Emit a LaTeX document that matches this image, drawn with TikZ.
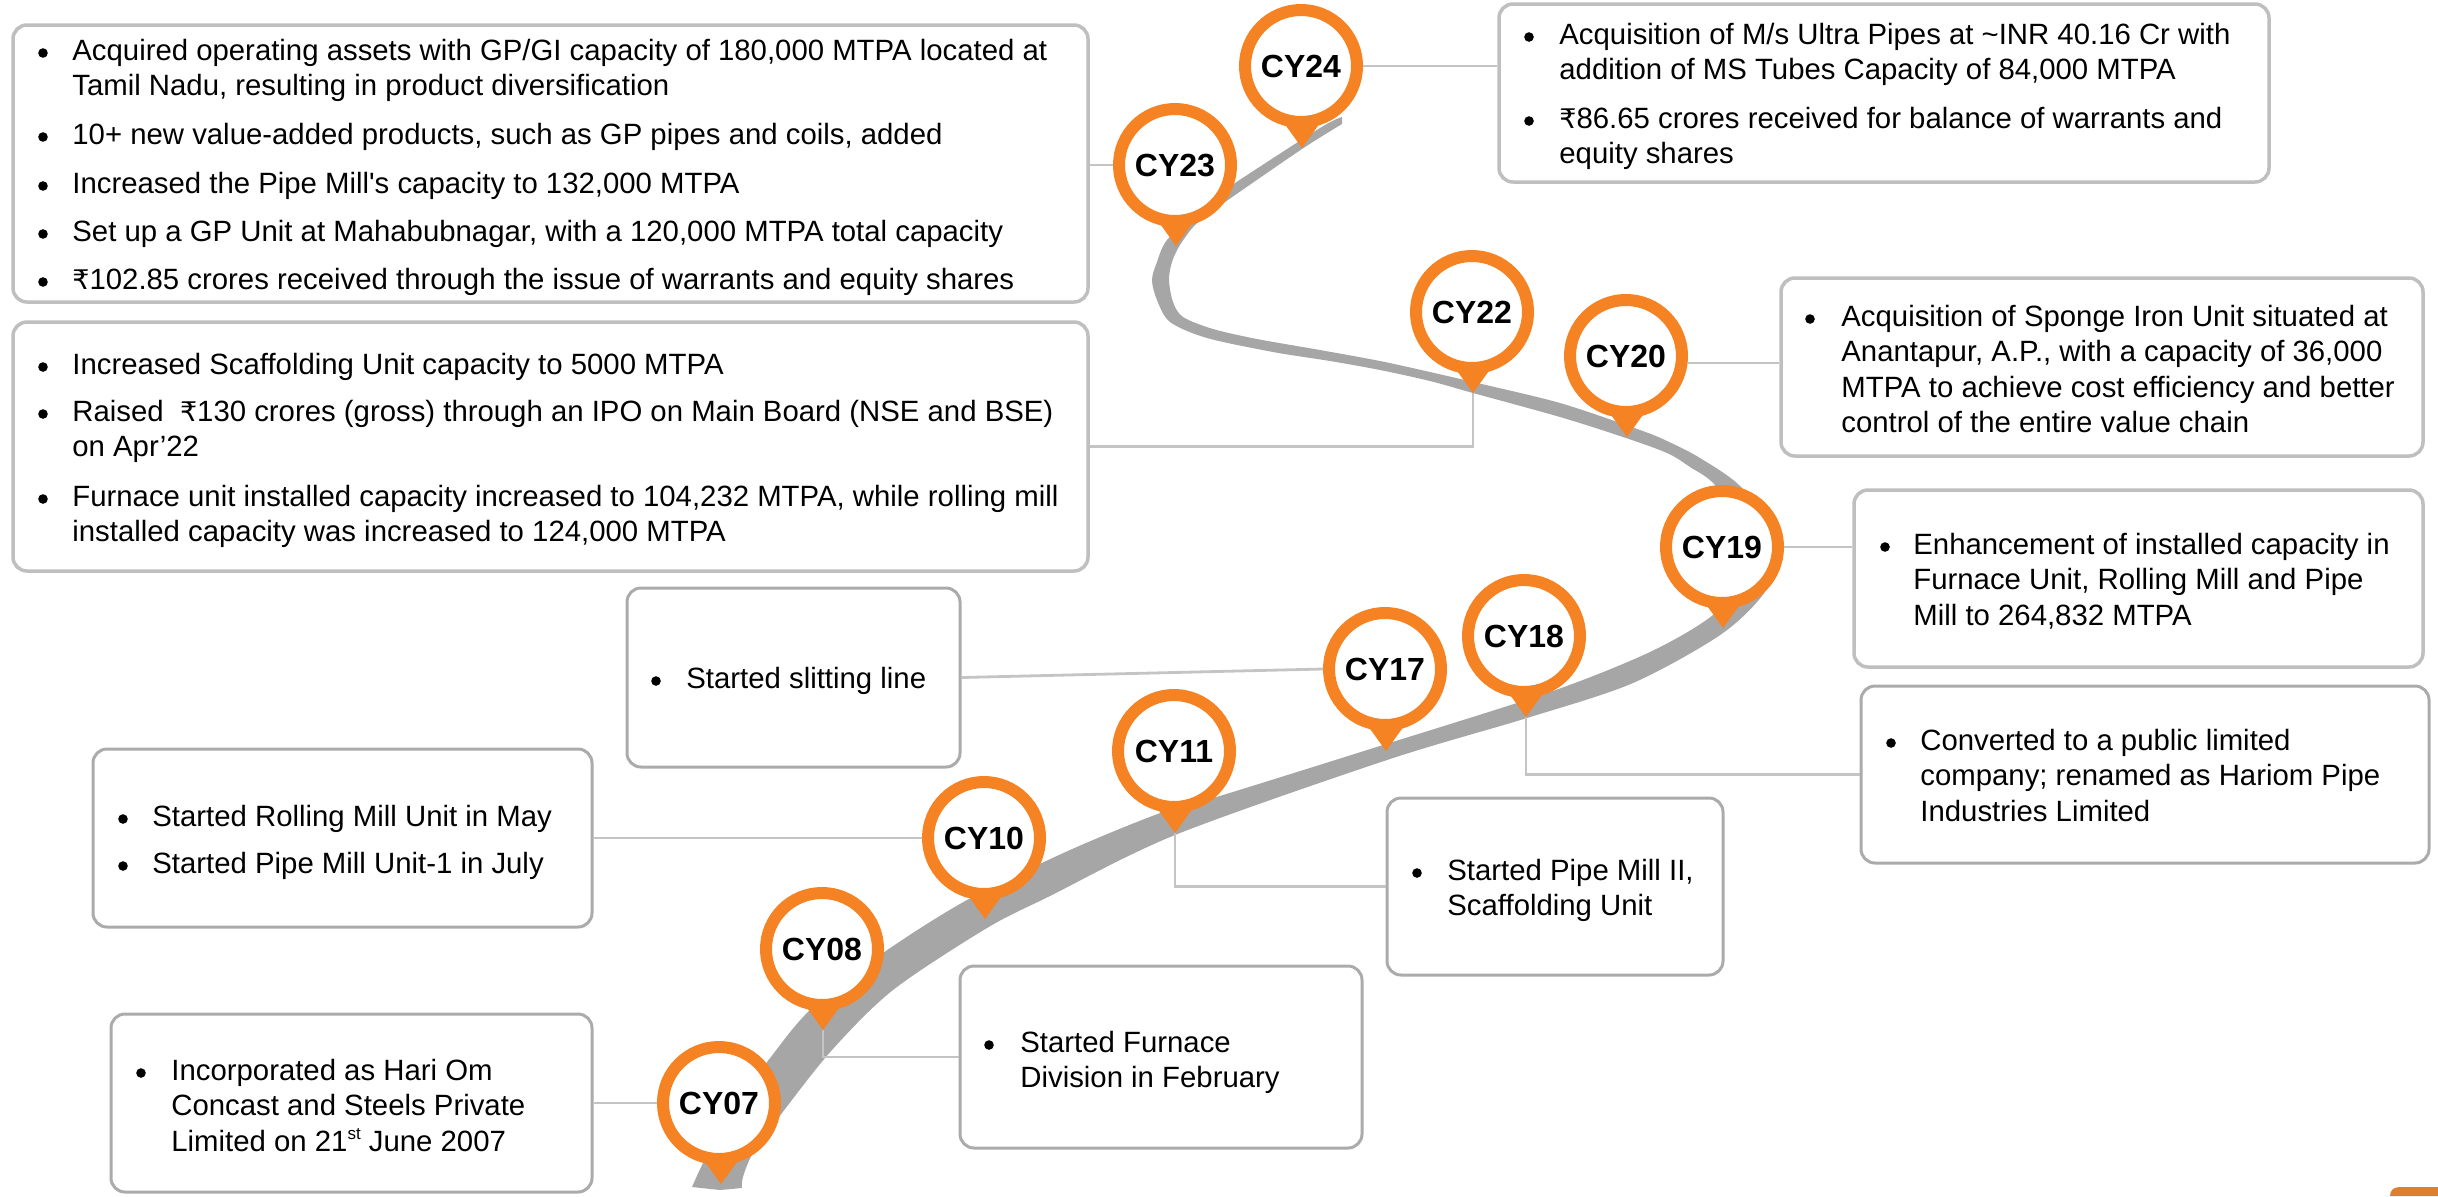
\documentclass[tikz,border=0pt]{standalone}
\usepackage{fontspec}
\setmainfont{Liberation Sans}
\newfontfamily\rupeefont{DejaVu Sans}[Scale=0.92]
\newcommand{\rupee}{{\rupeefont ₹}}
\usetikzlibrary{fit,calc}
\definecolor{ribbon}{HTML}{A6A6A6}
\definecolor{pinor}{HTML}{F58223}
\definecolor{cornor}{HTML}{DD7F2E}
\definecolor{linkc}{HTML}{C4C4C4}
\definecolor{boxlt}{HTML}{BFBFBF}
\definecolor{boxdk}{HTML}{ABABAB}
\tikzset{
  boxa/.style={draw=boxlt,line width=1.75pt,rounded corners=7pt,fill=white,inner sep=0pt},
  boxb/.style={draw=boxdk,line width=1.5pt,rounded corners=7pt,fill=white,inner sep=0pt},
  link/.style={draw=linkc,line width=1.4pt},
  pinc/.style={circle,draw=pinor,fill=white,line width=6pt,minimum size=56pt,inner sep=0pt,
     font=\fontsize{16}{18}\selectfont\bfseries,text=black},
  tipc/.style={fill=pinor},
  bul/.style={circle,fill=black,inner sep=0pt,minimum size=4.8pt},
  item/.style={anchor=base west,inner sep=0pt,font=\fontsize{14.67}{17.75}\selectfont}
}
\newcommand{\itm}[5]{%
  \node[bul] (b#1) at (#2,#4-6) {};
  \node[item] (t#1) at (#3,#4+1) {\begin{tabular}[t]{@{}l@{}}#5\end{tabular}};
}
\newcommand{\pintip}[5]{% name, cx, cy, tipx, tipy
  \coordinate (tip#1) at (#4,#5);
  \fill[tipc] (#4-18,#5-25) -- (tip#1) -- (#4+18,#5-25) -- cycle;
  \node[pinc] (cy#1) at (#2,#3) {CY#1};
}
\begin{document}
\begin{tikzpicture}[x=0.5pt,y=-0.5pt]
\useasboundingbox (0,0) rectangle (2438,1196);
% ribbon
\fill[ribbon]
  plot[smooth,tension=0.5] coordinates {(692,1187)(703,1163)(730,1110)(767,1062)(810,1010)(883,953)(967,900)(1070,850)(1163,812)(1223,795)(1383,745)(1550,692)(1650,652)(1713,615)(1745,575)(1750,535)(1715,485)(1690,467)(1667,453)(1623,437)(1560,417)(1473,393)(1430,381)(1380,370)(1330,361)(1273,352)(1207,338)(1170,322)(1157,300)(1152,280)(1157,262)(1167,240)(1200,208)(1235,183)(1320,128)(1342,117)}
  -- (1342,124) --
  plot[smooth,tension=0.5] coordinates {(1342,124)(1302,149)(1228,200)(1197,223)(1180,245)(1172,262)(1169,280)(1173,302)(1183,317)(1213,329)(1257,339)(1320,350)(1380,361)(1430,372)(1473,382)(1560,403)(1640,430)(1667,441)(1700,458)(1742,488)(1775,540)(1768,587)(1723,633)(1633,683)(1527,718)(1387,760)(1175,835)(1050,896)(987,928)(893,990)(832,1050)(782,1113)(753,1153)(743,1177)(742,1188)}
  -- (720,1190) -- cycle;
% corner mark
\fill[cornor] (2390,1196) .. controls (2390,1190) and (2394,1187) .. (2400,1187) -- (2438,1187) -- (2438,1196) -- cycle;
% boxes
\node[boxa,fit={(13,25)(1088,302)}] (boxA) {};
\node[boxa,fit={(13,322)(1088,571)}] (boxB) {};
\node[boxa,fit={(1499,4)(2269,182)}] (boxC) {};
\node[boxa,fit={(1781,278)(2423,456)}] (boxD) {};
\node[boxa,fit={(1854,490)(2423,667)}] (boxE) {};
\node[boxb,fit={(1861,686)(2429,863)}] (boxF) {};
\node[boxb,fit={(627,588)(960,767)}] (boxG) {};
\node[boxb,fit={(93,749)(592,927)}] (boxH) {};
\node[boxb,fit={(1387,798)(1723,975)}] (boxI) {};
\node[boxb,fit={(960,966)(1362,1148)}] (boxJ) {};
\node[boxb,fit={(111,1014)(592,1192)}] (boxK) {};
% connectors under the pins
\coordinate (tip22) at (1473,393);
\coordinate (tip18) at (1526,717);
\coordinate (tip11) at (1175,833);
\coordinate (tip08) at (823,1030);
\draw[link] (tip22) |- (boxB.east);
\draw[link] (tip18) |- (boxF.west);
\draw[link] (tip11) |- (boxI.west);
\draw[link] (tip08) |- (boxJ.west);
% pins
\pintip{07}{719}{1103}{721}{1184}
\pintip{08}{822}{949}{823}{1030}
\pintip{10}{984}{838}{985}{919}
\pintip{11}{1174}{751}{1175}{833}
\pintip{17}{1385}{669}{1386}{751}
\pintip{18}{1524}{636}{1526}{717}
\pintip{19}{1722}{547}{1723}{628}
\pintip{20}{1626}{356}{1627}{437}
\pintip{22}{1472}{312}{1473}{393}
\pintip{23}{1175}{165}{1176}{246}
\pintip{24}{1301}{66}{1302}{148}
% straight connectors
\coordinate (lk20) at (1688,363);
\draw[link] (cy24.east) -- (boxC.west |- cy24.east);
\draw[link] (boxA.east |- cy23.west) -- (cy23.west);
\draw[link] (lk20) -- (lk20 -| boxD.west);
\draw[link] (cy19.east) -- (boxE.west |- cy19.east);
\draw[link] (boxG.east) -- (cy17.west);
\draw[link] (boxH.east) -- (cy10.west);
\draw[link] (boxK.east) -- (cy07.west);
% texts
\itm{a1}{43}{72}{59}{Acquired operating assets with GP/GI capacity of 180,000 MTPA located at\\Tamil Nadu, resulting in product diversification}
\itm{a2}{43}{72}{143}{10+ new value-added products, such as GP pipes and coils, added}
\itm{a3}{43}{72}{192}{Increased the Pipe Mill\textquotesingle s capacity to 132,000 MTPA}
\itm{a4}{43}{72}{240}{Set up a GP Unit at Mahabubnagar, with a 120,000 MTPA total capacity}
\itm{a5}{43}{72}{288}{\rupee102.85 crores received through the issue of warrants and equity shares}
\itm{b1}{43}{72}{373}{Increased Scaffolding Unit capacity to 5000 MTPA}
\itm{b2}{43}{72}{420}{Raised\ \ \rupee130 crores (gross) through an IPO on Main Board (NSE and BSE)\\on Apr’22}
\itm{b3}{43}{72}{505}{Furnace unit installed capacity increased to 104,232 MTPA, while rolling mill\\installed capacity was increased to 124,000 MTPA}
\itm{c1}{1529}{1559}{43}{Acquisition of M/s Ultra Pipes at \textasciitilde INR 40.16 Cr with\\addition of MS Tubes Capacity of 84,000 MTPA}
\itm{c2}{1529}{1559}{127}{\rupee86.65 crores received for balance of warrants and\\equity shares}
\itm{d1}{1810}{1841}{325}{Acquisition of Sponge Iron Unit situated at\\Anantapur, A.P., with a capacity of 36,000\\MTPA to achieve cost efficiency and better\\control of the entire value chain}
\itm{e1}{1885}{1913}{553}{Enhancement of installed capacity in\\Furnace Unit, Rolling Mill and Pipe\\Mill to 264,832 MTPA}
\itm{f1}{1891}{1920}{749}{Converted to a public limited\\company; renamed as Hariom Pipe\\Industries Limited}
\itm{g1}{656}{686}{687}{Started slitting line}
\itm{h1}{123}{152}{825}{Started Rolling Mill Unit in May}
\itm{h2}{123}{152}{872}{Started Pipe Mill Unit-1 in July}
\itm{i1}{1417}{1447}{879}{Started Pipe Mill II,\\Scaffolding Unit}
\itm{j1}{989}{1020}{1051}{Started Furnace\\Division in February}
\itm{k1}{141}{171}{1079}{Incorporated as Hari Om\\Concast and Steels Private\\Limited on 21\raisebox{6pt}{\fontsize{8.5}{9}\selectfont st} June 2007}
\end{tikzpicture}
\end{document}
